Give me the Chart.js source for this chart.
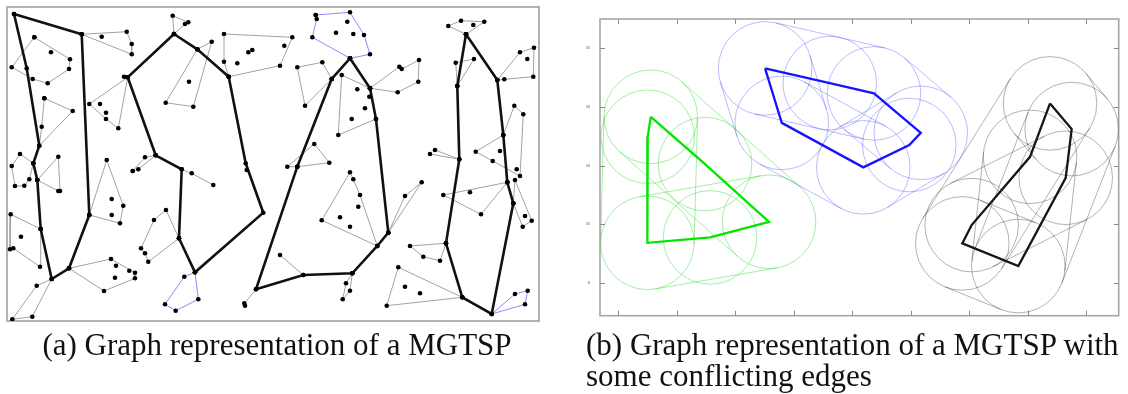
<!DOCTYPE html>
<html>
<head>
<meta charset="utf-8">
<script src="https://cdn.jsdelivr.net/npm/chart.js@4.4.0/dist/chart.umd.min.js"></script>
<style>
  body { margin: 0; background: #fff; width: 1128px; height: 394px; overflow: hidden; position: relative; }
  #left { position: absolute; left: 0; top: 0; width: 548px; height: 330px; }
  #right { position: absolute; left: 560px; top: 0; width: 568px; height: 340px; }
  .cap { position: absolute; top: 329px; font-family: "Liberation Serif", serif; font-size: 31px; line-height: 31px; color: #111; white-space: nowrap; }
</style>
</head>
<body>
<div id="left"><canvas id="graphChart"></canvas></div>
<div id="right"><canvas id="diskChart"></canvas></div>
<div class="cap" style="left:0;width:554px;text-align:center">(a) Graph representation of a MGTSP</div>
<div class="cap" style="left:586px">(b) Graph representation of a MGTSP with<br>some conflicting edges</div>
<script>
// ---- panel (a): node positions in map units ----
const tourA = [[14,14],[81.7,34.3],[89.3,215],[69,268.3],[51.7,279],[40.7,229],[37.3,180],[33.3,163.3],[39.3,145.7],[26.7,68.3],[14,14]];
const tourB = [[174,34],[197.3,49.3],[228.7,76.7],[245.7,163.3],[263.3,212.7],[195,272.3],[179,238.3],[181.7,169.3],[155.7,155.3],[127.7,77.3],[174,34]];
const tourC = [[350,58.3],[331.7,79],[297.3,166.7],[256,289.3],[303.3,275],[352.3,273.3],[377.3,246],[388.3,232.7],[376,119],[370,88.3],[350,58.3]];
const tourD = [[466,34.3],[457.3,86],[459.3,159.3],[446,243.3],[462.3,297.3],[491.7,314],[513.3,203.3],[507.3,182.3],[503.3,135],[497.3,80],[466,34.3]];

const greyLoops = [
  [[34.3,37.3],[70,59.3],[69,69],[47.7,83.3],[32.7,79],[11.7,67.3],[34.3,37.3]],
  [[81.7,34.3],[126.7,31.7],[131.7,44],[131.7,54.3],[81.7,34.3]],
  [[44.3,98.3],[72.7,111],[39.3,145.7],[41.7,126.7],[44.3,98.3]],
  [[127.7,77.3],[89.3,104],[106,119],[118.3,128.3],[127.7,77.3]],
  [[174,34],[172.7,15.7],[188.3,22.3],[185,24],[174,34]],
  [[197.3,49.3],[211.7,41.7],[193.3,106.7],[165.7,102.7],[197.3,49.3]],
  [[228.7,76.7],[224,61.7],[224,34],[292.3,37.3],[280,65.7],[228.7,76.7]],
  [[33.3,163.3],[20,154],[11.7,166],[15,186],[24.3,185.7],[29.3,179.3],[33.3,163.3]],
  [[37.3,180],[58.3,156.7],[60,191],[58.3,191],[37.3,180]],
  [[89.3,215],[106.7,160],[123.3,205.7],[120,223.3],[89.3,215]],
  [[40.7,229],[10.7,214.3],[10,249.3],[13.3,248.3],[40,266.7],[40.7,229]],
  [[51.7,279],[36.7,285.7],[12.3,319.3],[32.3,316.7],[51.7,279]],
  [[69,268.3],[111,259],[135,272.7],[135,278.3],[104,291],[69,268.3]],
  [[155.7,155.3],[145,157.3],[132.7,171],[138.3,169.3],[155.7,155.3]],
  [[181.7,169.3],[191.7,173.3],[213.3,185]],
  [[179,238.3],[166,210],[154,220],[141,248.3],[145,253.3],[148.3,261.7],[179,238.3]],
  [[331.7,79],[322.3,62.3],[297.3,67.3],[305,105.7],[331.7,79]],
  [[370,88.3],[341.7,75],[338.3,135],[376,119]],
  [[370,88.3],[399.3,66.7],[401.7,69],[419,60],[418.3,81.7],[397.7,92.3],[370,88.3]],
  [[297.3,166.7],[287.3,166.7],[314.3,144],[329.3,162.7],[297.3,166.7]],
  [[466,34.3],[448.3,26],[461,20.7],[484.3,21.7],[466,34.3]],
  [[457.3,86],[455.7,62.7],[474,59],[457.3,86]],
  [[497.3,80],[520,52.3],[534,47.7],[533.3,76.7],[504.3,79.3],[497.3,80]],
  [[503.3,135],[514.3,105.7],[523.3,114.3],[520,176],[492.7,161],[475.7,151.7],[503.3,135]],
  [[513.3,203.3],[515,180],[531.7,220.7],[522.7,226.7],[513.3,203.3]],
  [[430,154],[459.3,159.3],[435,150]],
  [[377.3,246],[321.7,220.3],[350,172.3],[353.3,179.3],[360,195],[377.3,246]],
  [[388.3,232.7],[405,196],[421.7,182.3],[388.3,232.7]],
  [[280,255],[303.3,275]],
  [[352.3,273.3],[346,283.3],[342.7,299.3],[350,290.7],[352.3,273.3]],
  [[507.3,182.3],[443.3,195],[481,214.3],[507.3,182.3]],
  [[446,243.3],[410,246],[423.3,256.7],[440,260.7],[446,243.3]],
  [[462.3,297.3],[398.3,267.3],[386.7,305.7],[462.3,297.3]],
  [[256,289.3],[244.3,303.3]]
];

const blueLoops = [
  [[195,272.3],[198.3,299.3],[175.7,310.7],[165,304.3],[184.3,276.7],[195,272.3]],
  [[315.7,15],[350,12.3],[364,35],[370,54.3],[350,58.3],[312.3,37.3],[316.7,19],[315.7,15]],
  [[491.7,314],[515,294],[527.7,290.7],[525,304.3],[491.7,314]]
];

const looseNodes = [[51,52.3],[100,104],[106,112.7],[189,81.7],[237.3,63.3],[248.3,52.3],[252.3,50],[284.3,45.7],
  [101.7,36.7],[111.7,199],[111.7,215],[21,236.7],[116,265.7],[129.3,270.7],[115,277.7],[347.3,21.7],[336,32.7],
  [353.3,34],[365,108.3],[351.7,119],[357.3,89.3],[369.3,96.7],[473.3,25],[527.3,59],[500,151],[525,216],
  [358.3,206.7],[340,217.3],[350,226.7],[470,192.3],[405,286.7],[420,293.3],[245,305.7],[246.7,170],
  [516.7,169.3],[124,76.7],[132.7,171]];

// ---- panel (b): tour nodes, disk reach and conflict links ----
const greenTour = [[277,1417],[251,1247],[248,343],[784,389],[1288,522],[741,1014]];
const blueTour = [[1254,1829],[1807,1704],[2185,1616],[2585,1280],[2487,1176],[2094,986],[1397,1365]];
const blackTour = [[3690,1531],[3875,1312],[3824,897],[3419,145],[2940,338],[3020,494],[3519,1076]];
const greenLinks = [[0,2],[0,4],[2,4]];
const blueLinks = [[0,2],[2,3],[0,6],[6,5],[5,3]];
const blackLinks = [[0,4],[4,3],[3,1],[0,1],[5,2],[6,3]];
const reach = 400;
const xTicks = [0,500,1000,1500,2000,2500,3000,3500,4000];
const yTicks = [0,500,1000,1500,2000];

const toXY = pts => pts.map(([x, y]) => ({ x, y }));
const closed = pts => pts.concat([pts[0]]);

// panel (a)
const graphSets = [];
graphSets.push({
  data: toXY([].concat(tourA, tourB, tourC, tourD, ...greyLoops, ...blueLoops, looseNodes)),
  pointRadius: 2.3, pointBackgroundColor: '#000', pointBorderWidth: 0, showLine: false, order: 0
});
[tourA, tourB, tourC, tourD].forEach(t => graphSets.push({
  data: toXY(t), showLine: true, borderColor: '#111', borderWidth: 2.6, pointRadius: 0, order: 1
}));
greyLoops.forEach(l => graphSets.push({
  data: toXY(l), showLine: true, borderColor: '#a2a2a2', borderWidth: 1, pointRadius: 0, order: 2
}));
blueLoops.forEach(l => graphSets.push({
  data: toXY(l), showLine: true, borderColor: '#8a8aff', borderWidth: 1, pointRadius: 0, order: 2
}));

const boxFrame = {
  id: 'boxFrame',
  beforeDatasetsDraw(chart) {
    const { ctx, chartArea: a } = chart;
    ctx.save();
    ctx.strokeStyle = '#a0a0a0';
    ctx.lineWidth = 1.6;
    ctx.strokeRect(a.left, a.top, a.right - a.left, a.bottom - a.top);
    ctx.restore();
  }
};

new Chart(document.getElementById('graphChart'), {
  type: 'scatter',
  data: { datasets: graphSets },
  options: {
    responsive: true,
    maintainAspectRatio: false,
    animation: false,
    events: [],
    layout: { padding: { left: 7, top: 7, right: 9, bottom: 9 } },
    plugins: { legend: { display: false }, tooltip: { enabled: false } },
    scales: {
      x: { type: 'linear', min: 7, max: 539, display: false },
      y: { type: 'linear', min: 7, max: 321, reverse: true, display: false }
    }
  },
  plugins: [boxFrame]
});

// panel (b)
function reachPx(chart) {
  const x = chart.scales.x;
  return Math.abs(x.getPixelForValue(reach) - x.getPixelForValue(0));
}

const groups = [
  { tour: greenTour, links: greenLinks, line: '#00e600', soft: 'rgba(40,215,40,0.42)' },
  { tour: blueTour, links: blueLinks, line: '#1414ff', soft: 'rgba(60,60,255,0.35)' },
  { tour: blackTour, links: blackLinks, line: '#161616', soft: 'rgba(0,0,0,0.3)' }
];

const diskSets = [];
groups.forEach(g => {
  diskSets.push({
    data: toXY(closed(g.tour)), showLine: true, borderColor: g.line, borderWidth: 2.3,
    pointRadius: 0, order: 0
  });
  diskSets.push({
    data: toXY(g.tour), showLine: false, pointRadius: c => reachPx(c.chart),
    pointBackgroundColor: 'rgba(0,0,0,0)', pointBorderColor: g.soft, pointBorderWidth: 1, order: 1
  });
});

// tangent lines of the capsule around each conflicting link
const capsules = {
  id: 'capsules',
  beforeDatasetsDraw(chart) {
    const { ctx, scales: { x, y } } = chart;
    const r = reachPx(chart);
    ctx.save();
    ctx.lineWidth = 1;
    groups.forEach(g => {
      ctx.strokeStyle = g.soft;
      g.links.forEach(([i, j]) => {
        const ax = x.getPixelForValue(g.tour[i][0]), ay = y.getPixelForValue(g.tour[i][1]);
        const bx = x.getPixelForValue(g.tour[j][0]), by = y.getPixelForValue(g.tour[j][1]);
        const len = Math.hypot(bx - ax, by - ay);
        const nx = -(by - ay) / len * r, ny = (bx - ax) / len * r;
        [1, -1].forEach(s => {
          ctx.beginPath();
          ctx.moveTo(ax + s * nx, ay + s * ny);
          ctx.lineTo(bx + s * nx, by + s * ny);
          ctx.stroke();
        });
      });
    });
    ctx.restore();
  }
};

const axisFrame = {
  id: 'axisFrame',
  beforeDatasetsDraw(chart) {
    const { ctx, chartArea: a, scales: { x, y } } = chart;
    ctx.save();
    ctx.strokeStyle = '#a6a6a6';
    ctx.lineWidth = 1.6;
    ctx.strokeRect(a.left, a.top, a.right - a.left, a.bottom - a.top);
    ctx.strokeStyle = '#8a8a8a';
    ctx.lineWidth = 1;
    const seg = (x1, y1, x2, y2) => { ctx.beginPath(); ctx.moveTo(x1, y1); ctx.lineTo(x2, y2); ctx.stroke(); };
    xTicks.forEach(v => {
      const px = Math.round(x.getPixelForValue(v)) + 0.5;
      seg(px, a.bottom, px, a.bottom - 5);
      seg(px, a.top, px, a.top + 5);
    });
    yTicks.forEach(v => {
      const py = Math.round(y.getPixelForValue(v)) + 0.5;
      seg(a.left, py, a.left + 5, py);
      seg(a.right, py, a.right - 5, py);
    });
    ctx.restore();
  }
};

const tickFont = { family: 'DejaVu Sans', size: 4 };

new Chart(document.getElementById('diskChart'), {
  type: 'scatter',
  data: { datasets: diskSets },
  options: {
    responsive: true,
    maintainAspectRatio: false,
    animation: false,
    events: [],
    layout: { padding: { left: 26, top: 19, right: 9.3, bottom: 15.3 } },
    plugins: { legend: { display: false }, tooltip: { enabled: false } },
    scales: {
      x: {
        type: 'linear', min: -157, max: 4277,
        afterBuildTicks: s => { s.ticks = xTicks.map(v => ({ value: v })); },
        afterFit: s => { s.height = 9; },
        grid: { display: false }, border: { display: false },
        ticks: { font: tickFont, color: '#555', padding: 1, maxRotation: 0, autoSkip: false }
      },
      y: {
        type: 'linear', min: -278, max: 2250,
        afterBuildTicks: s => { s.ticks = yTicks.map(v => ({ value: v })); },
        afterFit: s => { s.width = 14; },
        grid: { display: false }, border: { display: false },
        ticks: { font: tickFont, color: '#555', padding: 2, autoSkip: false }
      }
    }
  },
  plugins: [capsules, axisFrame]
});
</script>
</body>
</html>
